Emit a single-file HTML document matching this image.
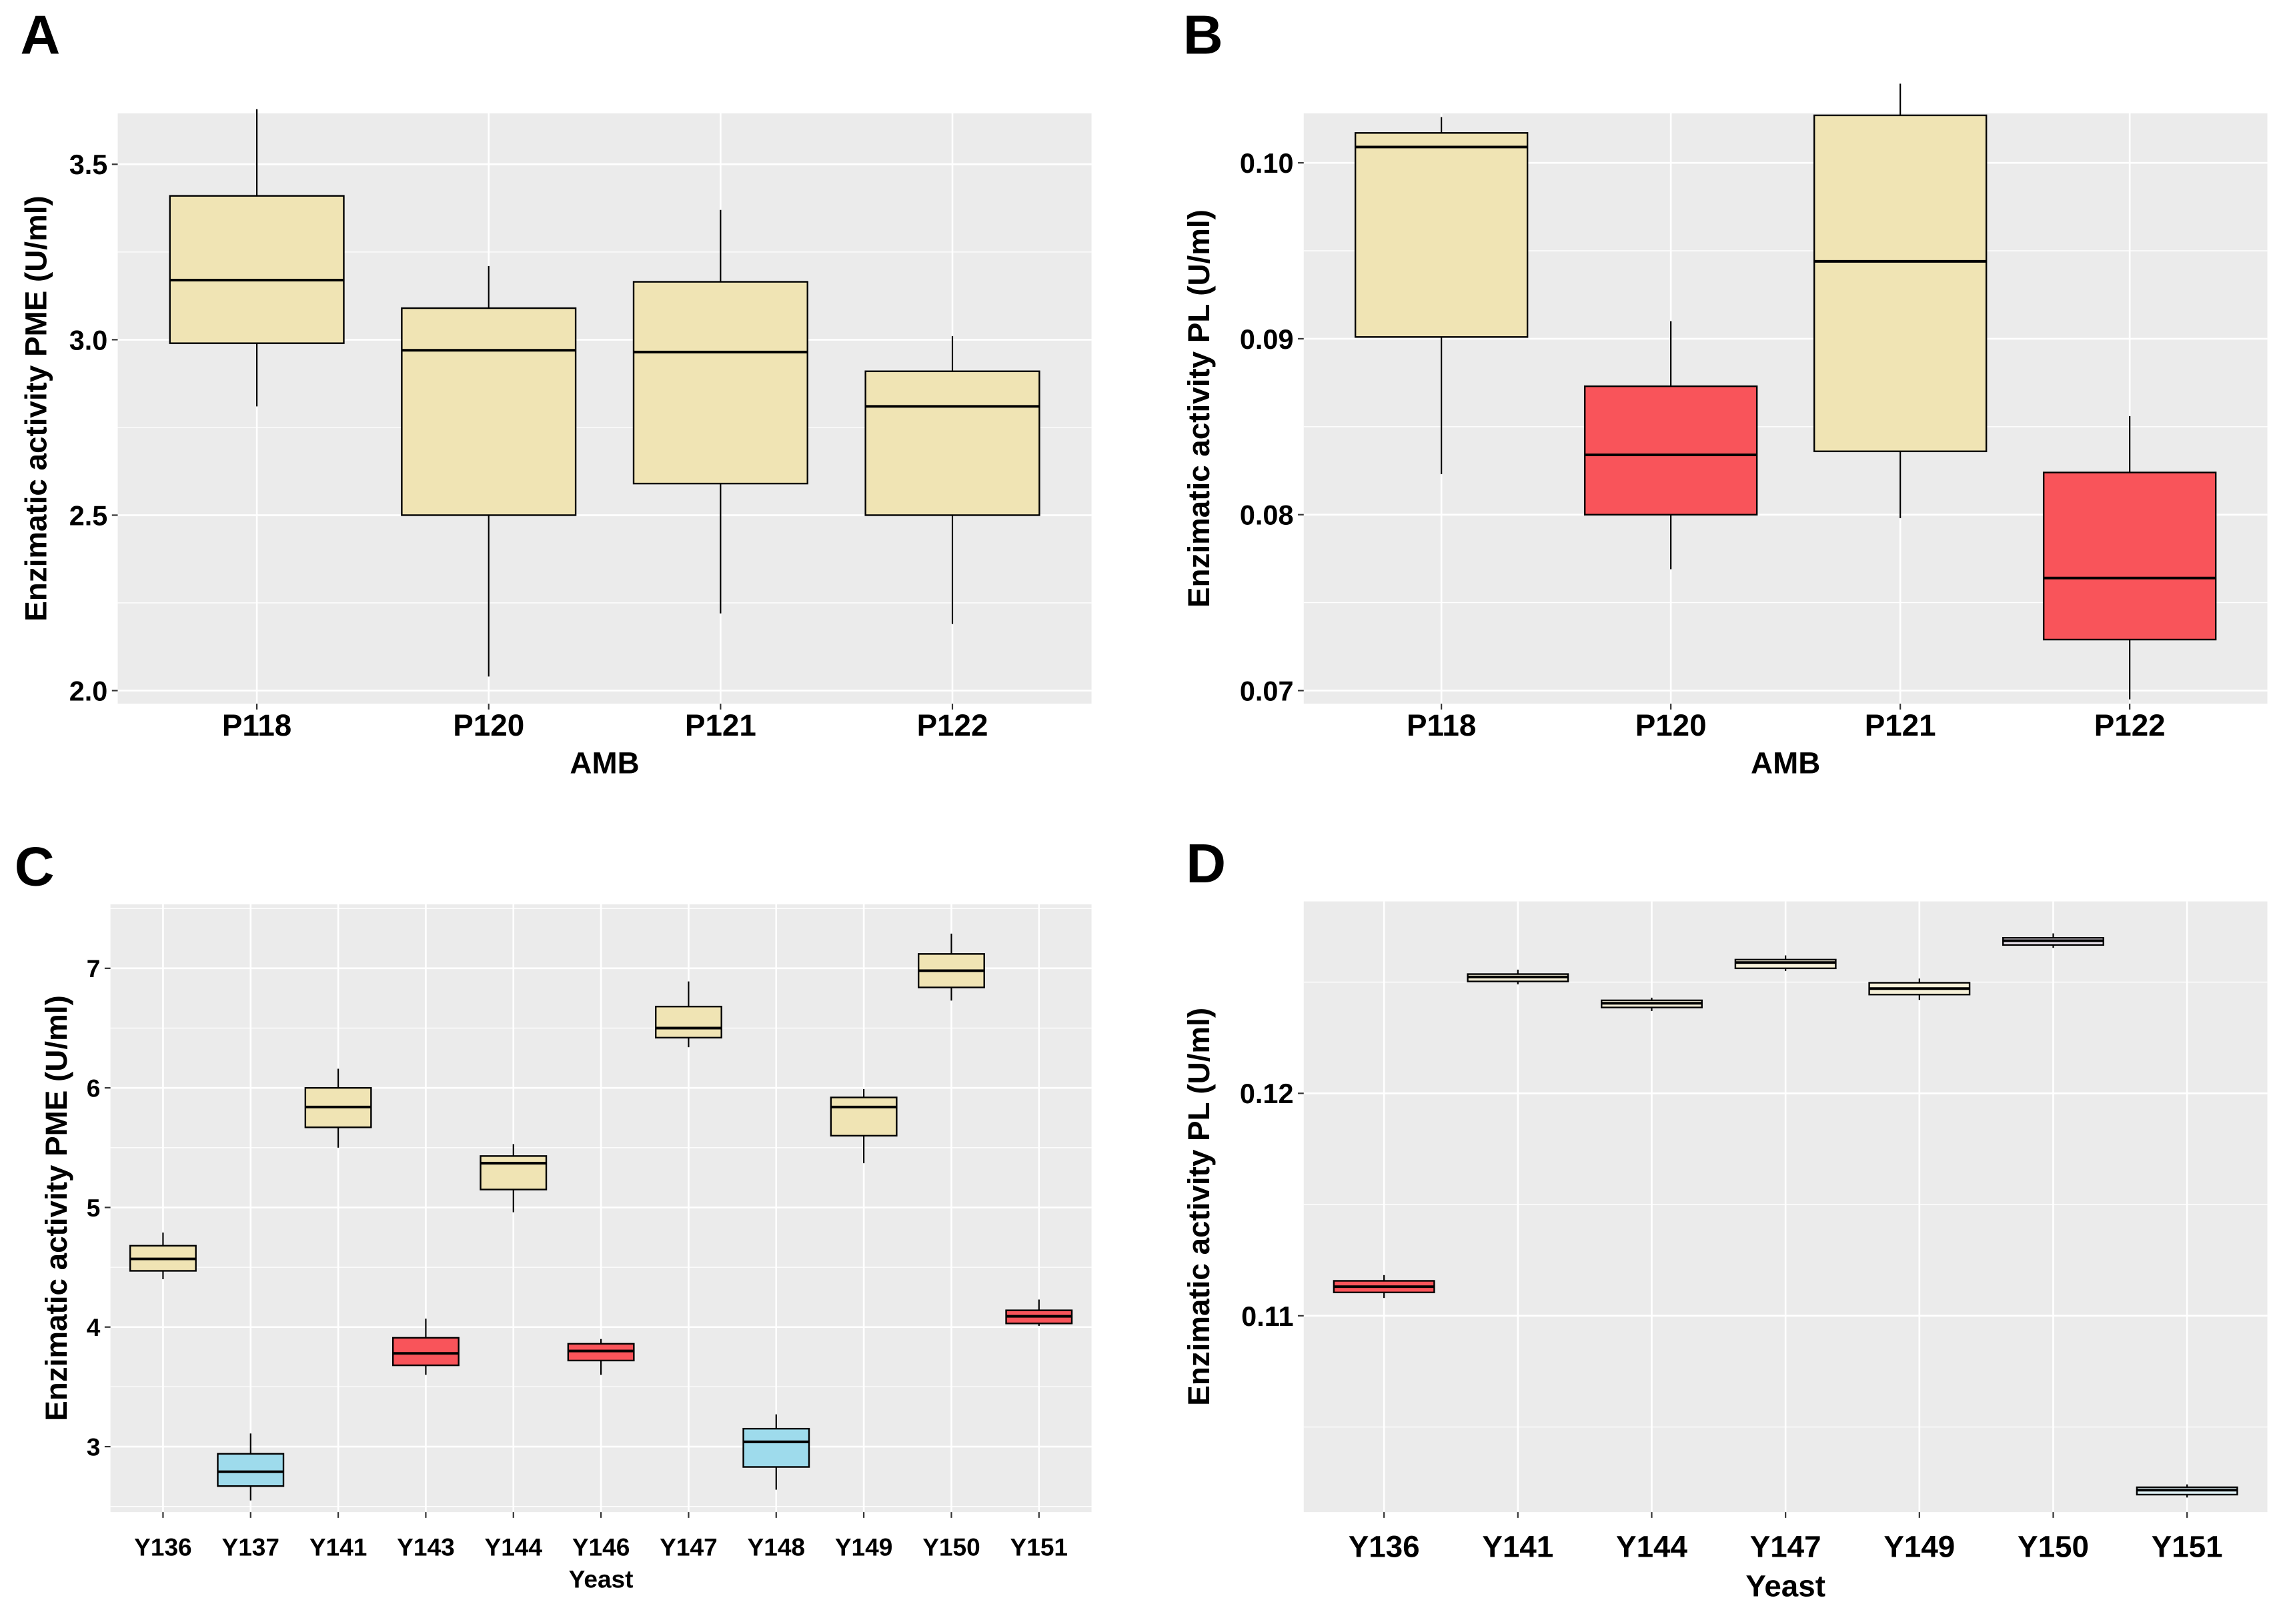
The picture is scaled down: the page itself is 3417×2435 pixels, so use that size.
<!DOCTYPE html>
<html><head><meta charset="utf-8"><style>
html,body{margin:0;padding:0;background:#fff;}
svg{display:block;font-family:"Liberation Sans",Arial,sans-serif;font-weight:bold;}
</style></head><body>
<svg id="fig" width="3417" height="2435" viewBox="0 0 1568 1117" preserveAspectRatio="none" xmlns="http://www.w3.org/2000/svg"></svg>
<script>
// Panel A data
const catsA = ["P118","P120","P121","P122"];
const maxA = [3.657,3.21,3.37,3.01];
const q3A = [3.41,3.09,3.165,2.91];
const medA = [3.17,2.97,2.965,2.81];
const q1A = [2.99,2.50,2.59,2.50];
const minA = [2.81,2.04,2.22,2.19];
const colA = ["#F0E4B4","#F0E4B4","#F0E4B4","#F0E4B4"];
const ticksA = [2.0,2.5,3.0,3.5];
const tickLabA = ["2.0","2.5","3.0","3.5"];
// Panel B data
const catsB = ["P118","P120","P121","P122"];
const maxB = [0.1026,0.0910,0.1045,0.0856];
const q3B = [0.1017,0.0873,0.1027,0.0824];
const medB = [0.1009,0.0834,0.0944,0.0764];
const q1B = [0.0901,0.0800,0.0836,0.0729];
const minB = [0.0823,0.0769,0.0798,0.0695];
const colB = ["#F0E4B4","#F9545A","#F0E4B4","#F9545A"];
const ticksB = [0.07,0.08,0.09,0.10];
const tickLabB = ["0.07","0.08","0.09","0.10"];
// Panel C data
const catsC = ["Y136","Y137","Y141","Y143","Y144","Y146","Y147","Y148","Y149","Y150","Y151"];
const maxC = [4.79,3.11,6.16,4.07,5.53,3.90,6.89,3.27,5.99,7.29,4.23];
const q3C = [4.68,2.94,6.00,3.91,5.43,3.86,6.68,3.15,5.92,7.12,4.14];
const medC = [4.57,2.79,5.84,3.78,5.37,3.80,6.50,3.04,5.84,6.98,4.09];
const q1C = [4.47,2.67,5.67,3.68,5.15,3.72,6.42,2.83,5.60,6.84,4.03];
const minC = [4.40,2.55,5.50,3.60,4.96,3.60,6.34,2.64,5.37,6.73,4.01];
const colC = ["#F0E4B4","#9EDBEC","#F0E4B4","#F9545A","#F0E4B4","#F9545A","#F0E4B4","#9EDBEC","#F0E4B4","#F0E4B4","#F9545A"];
const ticksC = [3,4,5,6,7];
const tickLabC = ["3","4","5","6","7"];
// Panel D data
const catsD = ["Y136","Y141","Y144","Y147","Y149","Y150","Y151"];
const maxD = [0.11183,0.12556,0.1243,0.1262,0.12516,0.12719,0.10242];
const q3D = [0.11157,0.12536,0.12418,0.12601,0.12497,0.12699,0.10229];
const medD = [0.11131,0.12523,0.12405,0.12588,0.12471,0.12686,0.10216];
const q1D = [0.11105,0.12503,0.12386,0.12562,0.12444,0.12667,0.10196];
const minD = [0.1108,0.1249,0.1237,0.1255,0.1242,0.12654,0.10183];
const colD = ["#F9545A","#F6F0D8","#F6F0D8","#F6F0D8","#F6F0D8","#EEE6F0","#DDEFF4"];
const ticksD = [0.11,0.12];
const tickLabD = ["0.11","0.12"];

const NS="http://www.w3.org/2000/svg";
const svg=document.getElementById('fig');
function mk(tag,attrs,parent,txt){const e=document.createElementNS(NS,tag);for(const k in attrs)e.setAttribute(k,attrs[k]);if(txt!==undefined)e.textContent=txt;(parent||svg).appendChild(e);return e;}

function panel(o){
  const g=mk('g',{});
  
  
  const L=o.x0,R=o.x1,T=o.y0,B=o.y1;
  const ys=v=>o.pa+(v-o.va)*(o.pb-o.pa)/(o.vb-o.va);
  const n=o.cats.length, step=(R-L)/(n+0.2), xs=i=>L+step*(0.6+i);
  const bg=mk('rect',{x:L,y:T,width:R-L,height:B-T,fill:'#EBEBEB'},g);
  
  
  for(let i=0;i<o.ticks.length+1;i++){
    const a=i===0?o.ticks[0]-(o.ticks[1]-o.ticks[0]):o.ticks[i-1];
    const m=a+(o.ticks[1]-o.ticks[0])/2, y=ys(m);
    if(y>T&&y<B){const l=mk('line',{x1:L,x2:R,y1:y,y2:y,stroke:'#fff','stroke-width':0.6},g);
      }
  }
  o.ticks.forEach((t,i)=>{const y=ys(t);
    const l=mk('line',{x1:L,x2:R,y1:y,y2:y,stroke:'#fff','stroke-width':1.2},g);
    
    mk('line',{x1:L-4,x2:L,y1:y,y2:y,stroke:'#333','stroke-width':1},g);
    const tx=mk('text',{x:L-7,y:y+o.tfs*0.36,'text-anchor':'end','font-size':o.tfs,fill:'#000'},g,o.tickLab[i]);
    
  });
  o.cats.forEach((c,i)=>{const x=xs(i);
    const l=mk('line',{x1:x,x2:x,y1:T,y2:B,stroke:'#fff','stroke-width':1.2},g);
    
    mk('line',{x1:x,x2:x,y1:B,y2:B+4,stroke:'#333','stroke-width':1},g);
    const tx=mk('text',{x:x,y:o.xly,'text-anchor':'middle','font-size':o.xfs,fill:'#000'},g,c);
    
  });
  o.cats.forEach((c,i)=>{const x=xs(i),w=step*0.75;
    const bx=mk('g',{},g);
    
    
    mk('line',{x1:x,x2:x,y1:ys(o.max[i]),y2:ys(o.q3[i]),stroke:'#000','stroke-width':1},bx);
    mk('line',{x1:x,x2:x,y1:ys(o.q1[i]),y2:ys(o.min[i]),stroke:'#000','stroke-width':1},bx);
    mk('rect',{x:x-w/2,y:ys(o.q3[i]),width:w,height:ys(o.q1[i])-ys(o.q3[i]),fill:o.col[i],stroke:'#000','stroke-width':1.1},bx);
    mk('line',{x1:x-w/2,x2:x+w/2,y1:ys(o.med[i]),y2:ys(o.med[i]),stroke:'#000','stroke-width':1.8},bx);
  });
  const yt=mk('text',{transform:`translate(${o.ytx},${(T+B)/2}) rotate(-90)`,'text-anchor':'middle','font-size':o.yfs,fill:'#000'},g,o.ytitle);
  
  const xt=mk('text',{x:(L+R)/2,y:o.xty,'text-anchor':'middle','font-size':o.xtfs,fill:'#000'},g,o.xtitle);
  
  const pl=mk('text',{x:o.lx,y:o.ly,'font-size':38,fill:'#000'},g,o.id);
  
}
panel({id:'A',x0:81,x1:751,y0:78,y1:484,va:2.0,pa:475,vb:3.5,pb:113,cats:catsA,max:maxA,q3:q3A,med:medA,q1:q1A,min:minA,col:colA,ticks:ticksA,tickLab:tickLabA,tfs:19,xfs:21,xly:506,ytitle:'Enzimatic activity PME  (U/ml)',ytx:32,yfs:21,xtitle:'AMB',xty:532,xtfs:21,lx:14,ly:37});
panel({id:'B',x0:897,x1:1560,y0:78,y1:484,va:0.07,pa:475,vb:0.10,pb:112,cats:catsB,max:maxB,q3:q3B,med:medB,q1:q1B,min:minB,col:colB,ticks:ticksB,tickLab:tickLabB,tfs:19,xfs:21,xly:506,ytitle:'Enzimatic activity PL  (U/ml)',ytx:832,yfs:21,xtitle:'AMB',xty:532,xtfs:21,lx:814,ly:37});
panel({id:'C',x0:76,x1:751,y0:622,y1:1040,va:3,pa:995,vb:7,pb:666,cats:catsC,max:maxC,q3:q3C,med:medC,q1:q1C,min:minC,col:colC,ticks:ticksC,tickLab:tickLabC,tfs:17,xfs:17,xly:1070,ytitle:'Enzimatic activity PME  (U/ml)',ytx:46,yfs:21,xtitle:'Yeast',xty:1092,xtfs:17,lx:10,ly:609});
panel({id:'D',x0:897,x1:1560,y0:620,y1:1040,va:0.11,pa:905,vb:0.12,pb:752,cats:catsD,max:maxD,q3:q3D,med:medD,q1:q1D,min:minD,col:colD,ticks:ticksD,tickLab:tickLabD,tfs:19,xfs:21,xly:1071,ytitle:'Enzimatic activity PL  (U/ml)',ytx:832,yfs:21,xtitle:'Yeast',xty:1098,xtfs:21,lx:816,ly:607});
</script>
</body></html>
